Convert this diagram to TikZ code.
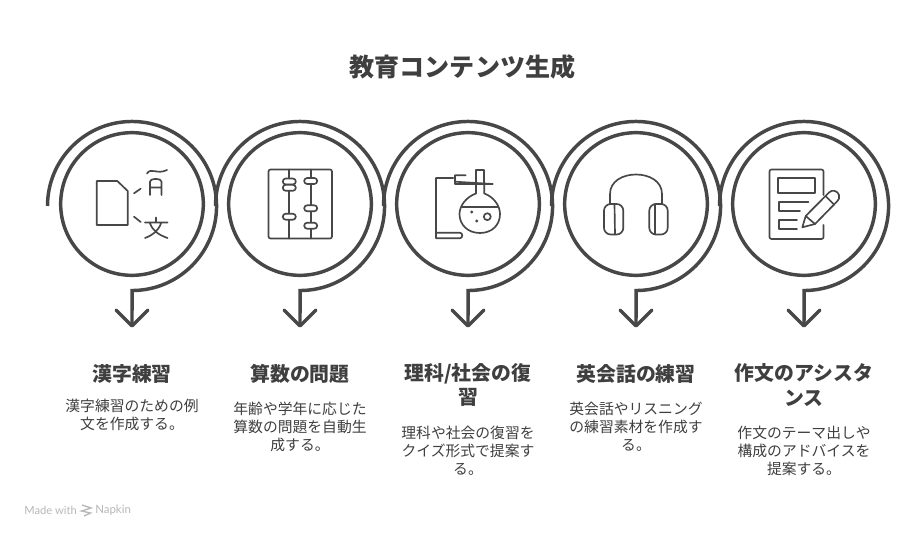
\documentclass[tikz,border=0pt]{standalone}
\usepackage{fontspec}
\setmainfont{Noto Sans CJK JP}
\newfontfamily\footfont{Lato}
\definecolor{ink}{HTML}{474747}
\definecolor{txt}{HTML}{3F3F3F}
\definecolor{foot}{HTML}{B8B8B8}
\begin{document}
\begin{tikzpicture}[x=0.75pt,y=-0.75pt,
  flow/.style={draw=ink,line width=2.6pt},
  headtip/.style={draw=ink,line width=2.6pt,line cap=round,line join=round},
  icon/.style={draw=ink,line width=1.25pt,line cap=round,line join=round},
  disc/.style={circle,draw=ink,line width=2.6pt,minimum size=107pt,inner sep=0pt},
  titletext/.style={font=\fontsize{18.8pt}{22pt}\selectfont\bfseries,text=txt},
  headtext/.style={font=\fontsize{14.9pt}{18.6pt}\selectfont\bfseries,text=txt,align=center,anchor=center},
  bodytext/.style={font=\fontsize{11.1pt}{13.5pt}\selectfont,text=txt,align=center,anchor=center}]
\useasboundingbox (0,0) rectangle (924,538);
\fill[white] (0,0) rectangle (924,538);
\node[titletext] (title) at (462.5,67) {教育コンテンツ生成};
% rings, flow lines and arrows
\foreach \n/\cx in {a/132,b/300,c/468,d/636,e/804}{
  \node[disc] (ring\n) at (\cx,204) {};
  \coordinate (start\n) at (\cx-84.5,206);
  \coordinate (turn\n) at (\cx,289.5);
  \coordinate (tip\n) at (\cx,326);
  \draw[flow] (start\n) arc[start angle=180,end angle=-90,x radius=63.4pt,y radius=63.4pt] -- (tip\n);
  \draw[headtip] (\cx-16,310) -- (tip\n) -- (\cx+16,310);
}
% icon 1: translation
\draw[icon] (96.7,181) -- (117.3,181) -- (127.7,191) -- (127.7,225) -- (96.7,225) -- cycle;
\draw[icon] (134,193.3) -- (140.7,188.7) (134,216.7) -- (140.7,222);
\draw[icon] (150,195) -- (150,181.5) .. controls (150,178) and (161.5,178) .. (161.5,181.5) -- (161.5,195) (150,187.5) -- (161.5,187.5);
\draw[icon] (147,173.5) .. controls (151,167) and (157,175) .. (167,170);
\draw[icon] (156,217.5) -- (156,222) (145,222.5) -- (167.5,222.5) (161,223.5) .. controls (158,231) and (153,235) .. (145,238) (150,223.5) .. controls (153,231) and (159,235) .. (167.5,238);
% icon 2: abacus
\draw[icon,rounded corners=1.5pt] (268.5,169.5) -- (332,169.5) -- (332,238.5) -- (268.5,238.5) -- cycle;
\draw[icon] (289.3,169.5) -- (289.3,238.5) (310.7,169.5) -- (310.7,238.5);
\foreach \bx/\by/\bn in {289.3/181.5/p,289.3/187.8/q,289.3/216.7/r,310.7/181/s,310.7/208.3/t,310.7/225.7/u}{
  \draw[icon,fill=white,rounded corners=2.2pt] (\bx-6.5,\by-3) rectangle (\bx+6.5,\by+3);
}
% icon 3: flask
\draw[icon] (453.3,178) -- (436,178) -- (436,238.3) -- (460,238.3) .. controls (463,238) and (463,233) .. (460,232.7) -- (436,232.7);
\draw[icon] (465.7,175.3) -- (455,175.3) -- (455,184) -- (492.7,184) (455,181.7) -- (492.7,184);
\draw[icon] (476,184) -- (476,170) -- (484.3,170) -- (484.3,184);
\draw[icon] (476,184) -- (476,193.5) .. controls (466,197) and (459.5,206) .. (459.5,214) .. controls (459.5,225) and (468,233) .. (480,233) .. controls (492,233) and (500,225) .. (500,214) .. controls (500,206) and (494,197) .. (484.3,193.5) -- (484.3,184);
\draw[icon] (462,206.7) -- (498,206.7);
\draw[icon] (487.3,216.7) circle[radius=2.6pt];
\fill[ink] (471.7,212) circle[radius=1.2pt] (476.7,221) circle[radius=1.2pt];
% icon 4: headphones
\draw[icon] (610,204) -- (610,194) .. controls (610,168) and (662,168) .. (662,194) -- (662,204);
\draw[icon,rounded corners=5pt] (604,204) rectangle (623.3,234.5);
\draw[icon,rounded corners=5pt] (649.3,204) rectangle (667.7,234.5);
\draw[icon] (614.5,204) -- (615,234.5) (655,204) -- (655,234.5);
% icon 5: page and pencil
\draw[icon,rounded corners=1.5pt] (823.5,195) -- (823.5,169.5) -- (769.5,169.5) -- (769.5,239) -- (823.5,239) -- (823.5,225);
\draw[icon] (778.3,178.3) rectangle (815,193.3);
\draw[icon] (808.5,201.7) -- (779,201.7) -- (779,211) -- (800,211);
\draw[icon] (797,220) -- (779,220) -- (779,229.3) -- (797,229.3);
\draw[icon] (802.3,227.3) -- (805.7,216) -- (829,192.5) .. controls (832,189) and (838,191) .. (839,195) .. controls (840,198) and (838.5,200) .. (837,201.5) -- (815,224) -- cycle;
\draw[icon] (805.7,216) -- (815,224) (825.5,196) -- (834,204.5);
% headings
\node[headtext] (h1) at (132,374) {漢字練習};
\node[headtext] (h2) at (300,374) {算数の問題};
\node[headtext] (h3) at (468,385) {理科/社会の復\\習};
\node[headtext] (h4) at (636,374) {英会話の練習};
\node[headtext] (h5) at (804,385) {作文のアシスタ\\ンス};
% bodies
\node[bodytext] (b1) at (132,415) {漢字練習のための例\\文を作成する。};
\node[bodytext] (b2) at (300,427) {年齢や学年に応じた\\算数の問題を自動生\\成する。};
\node[bodytext] (b3) at (468,451) {理科や社会の復習を\\クイズ形式で提案す\\る。};
\node[bodytext] (b4) at (636,427) {英会話やリスニング\\の練習素材を作成す\\る。};
\node[bodytext] (b5) at (804,451) {作文のテーマ出しや\\構成のアドバイスを\\提案する。};
% footer
\node[anchor=west,inner sep=0pt,text=foot,font=\footfont\fontsize{8.4pt}{10pt}\selectfont] (madewith) at (24,510) {Made with};
\node[anchor=west,inner sep=0pt,text=foot,font=\footfont\fontsize{8.6pt}{10pt}\selectfont] (napkin) at (95,510) {Napkin};
\draw[draw=foot,line width=1pt] (82,505) -- (91,508) -- (81.5,511) -- (90.5,513) -- (84,516);
\end{tikzpicture}
\end{document}
